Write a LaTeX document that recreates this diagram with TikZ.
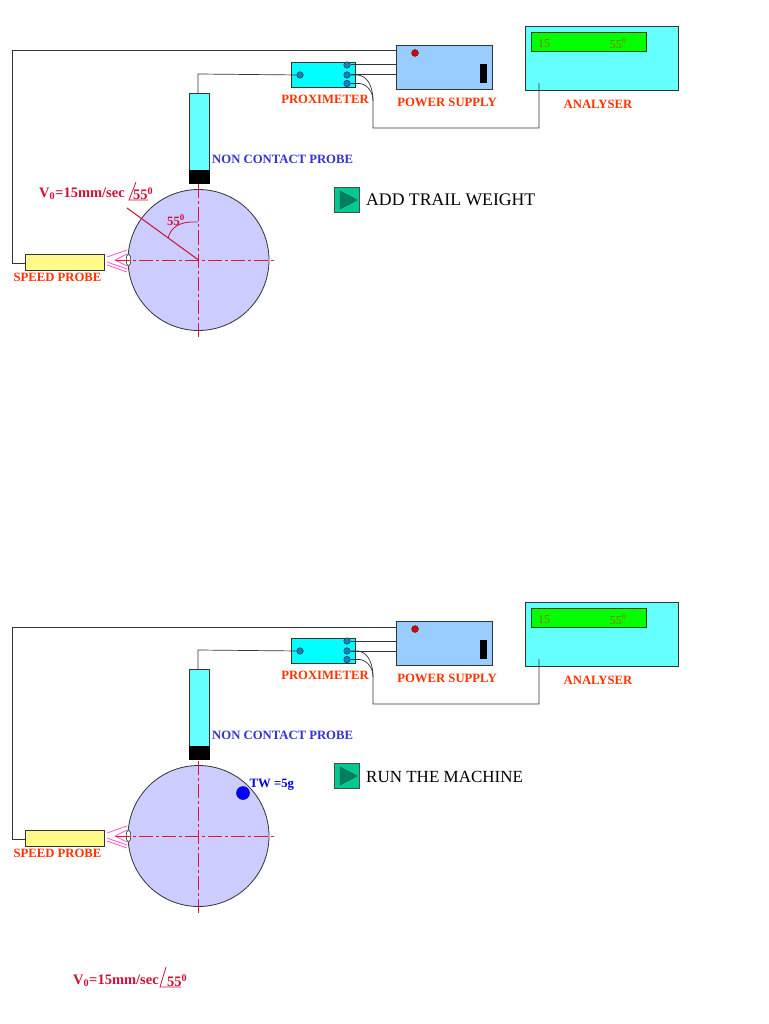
\documentclass[tikz,border=0pt]{standalone}
\usepackage{fontspec}
\setmainfont{Liberation Serif}
\usetikzlibrary{positioning,calc,shapes.geometric}
\definecolor{wirec}{HTML}{333333}
\definecolor{labelred}{HTML}{FF3300}
\definecolor{noteblue}{HTML}{3333CC}
\definecolor{notered}{HTML}{CC1133}
\definecolor{panelcyan}{HTML}{66FFFF}
\definecolor{proxcyan}{HTML}{00FFFF}
\definecolor{supplyblue}{HTML}{99CCFF}
\definecolor{wheelblue}{HTML}{CCCCFF}
\definecolor{termblue}{HTML}{0F7FD0}
\definecolor{raypink}{HTML}{FF66CC}
\definecolor{btngreen}{HTML}{00C890}
\definecolor{btndark}{HTML}{00805F}
\definecolor{centrered}{HTML}{E0103C}
\definecolor{dispval}{HTML}{A06A00}
\tikzset{
  box/.style={draw=#1,line width=0.8pt,inner sep=0pt,outer sep=0pt},
  box/.default=wirec,
  lbl/.style={text=labelred,font=\fontsize{12.7}{13}\selectfont\bfseries,inner sep=0pt},
  wire/.style={draw=wirec,line width=1pt},
  thin wire/.style={draw=wirec,line width=0.7pt},
  centre/.style={draw=centrered,line width=0.9pt,dash pattern=on 14pt off 3pt on 3pt off 3pt},
  term/.style={circle,draw=wirec,line width=0.5pt,fill=termblue,minimum size=6.5pt,inner sep=0pt},
  stepnote/.style={text=black,inner sep=0pt,anchor=west},
  valnote/.style={text=notered,font=\fontsize{14.5}{15}\selectfont\bfseries,inner sep=0pt,anchor=west},
}
% one complete rig, #1 prefix, #2 shift downwards, #3 text beside the button
\newcommand{\drawrig}[3]{
\begin{scope}[yshift=-#2pt,name prefix=#1-]
  \node[box,fill=panelcyan,minimum width=153pt,minimum height=64pt] (analyser) at (601.5,58) {};
  \node[box=green!30!black,fill=green,minimum width=115pt,minimum height=19pt] (display) at (588.5,41.5) {};
  \node[text=dispval,font=\fontsize{12}{12}\selectfont,inner sep=0pt] (dval) at (544,44) {15};
  \node[text=dispval,font=\fontsize{12}{12}\selectfont,inner sep=0pt] (dang) at (618,43.5) {55\textsuperscript{0}};
  \node[box,fill=supplyblue,minimum width=96pt,minimum height=44pt] (supply) at (444,67) {};
  \node[circle,draw=wirec,line width=0.4pt,fill=red!85!black,minimum size=7pt,inner sep=0pt] (lamp) at (415,53) {};
  \node[fill=black,minimum width=7pt,minimum height=19pt,inner sep=0pt] (slot) at (483.5,73.5) {};
  \node[box,fill=proxcyan,minimum width=64pt,minimum height=25pt] (prox) at (323.5,74.5) {};
  \node[term] (tin) at (300,75) {};
  \node[term] (ta) at (347,65) {};
  \node[term] (tb) at (347,75) {};
  \node[term] (tc) at (347,83.5) {};
  \node[box,fill=panelcyan,minimum width=20pt,minimum height=77pt] (probe) at (199,131.5) {};
  \node[fill=black,minimum width=21pt,minimum height=14pt,inner sep=0pt,below=0pt of probe] (tip) {};
  \node[box,fill=wheelblue,circle,minimum size=141pt] (wheel) at (198.5,260) {};
  \node[box,fill=yellow!45,minimum width=79pt,minimum height=16pt] (speed) at (64.5,262) {};
  \node[draw=wirec,line width=0.6pt,fill=white,ellipse,minimum width=4.5pt,minimum height=12pt,inner sep=0pt] (mark) at (128.5,260) {};

  \node[lbl] (proxl) at (325,99.5) {PROXIMETER};
  \node[lbl] (supplyl) at (447,102) {POWER SUPPLY};
  \node[lbl] (analyserl) at (598,104) {ANALYSER};
  \node[lbl] (speedl) at (57.5,277) {SPEED PROBE};
  \node[lbl,text=noteblue,anchor=west] (probel) at (212,159.5) {NON CONTACT PROBE};

  \node[draw=black!70,line width=1.2pt,fill=btngreen,minimum size=25pt,inner sep=0pt] (btn) at (347,200) {};
  \draw[btndark!70!black,line width=0.5pt,fill=btndark] ([xshift=-7pt,yshift=9pt]btn.center) -- ([xshift=10pt]btn.center) -- ([xshift=-7pt,yshift=-9pt]btn.center) -- cycle;
  \node[stepnote] (stepl) at (366,#3) {\csname rigstep#1\endcsname};

  \coordinate (cnr a) at (12,51);
  \coordinate (cnr b) at (12,263);
  \coordinate (cnr c) at (198,74);
  \coordinate (cnr d) at (373,128);
  \coordinate (cnr e) at (539,128);
  \coordinate (cnr f) at (539,83);
  \coordinate (cnr g) at (373,101);

  \draw[wire] (supply.west |- cnr a) -- (cnr a) -- (cnr b) -- (speed.west |- cnr b);
  \draw[thin wire] (tin) -- (cnr c) -- (probe.north -| cnr c);
  \draw[wire] (ta) -- (ta -| supply.west);
  \draw[wire] (tb) -- ++(50,0);
  \draw[thin wire] (tc) -- (360,83.5) .. controls (368,85) and (373,92) .. (cnr g) -- (cnr d) -- (cnr e) -- (cnr f);
  \draw[thin wire] (tb) -- (358,75) .. controls (366,76) and (373,84) .. (cnr g);

  \foreach \ya/\xb/\yb in {257/127/250,260/127/254,260/127/266,262/127/269,265/127/272}{
    \draw[raypink,line width=0.9pt] (\ifnum\ya=260 115\else 107\fi,\ya) -- (\xb,\yb);
  }
  \draw[centre] ([xshift=-12pt]wheel.west) -- ([xshift=5.5pt]wheel.east);
  \draw[centre] ([yshift=5pt]wheel.north) -- ([yshift=-9pt]wheel.south);
\end{scope}
}
\begin{document}
\begin{tikzpicture}[x=1pt,y=-1pt]
  \useasboundingbox (0,0) rectangle (768,1024);
  \expandafter\def\csname rigstepa\endcsname{\fontsize{17.7}{18}\selectfont ADD TRAIL WEIGHT}
  \expandafter\def\csname rigstepb\endcsname{\fontsize{17}{17}\selectfont RUN THE MACHINE}
  \drawrig{a}{0}{200}
  \drawrig{b}{576}{201}

  % first rig, reading at the angle
  \coordinate (vend) at (127,208);
  \coordinate (arca) at (168,238);
  \coordinate (arcb) at (198,222);
  \draw[notered,line width=1pt] (a-wheel.center) -- (vend);
  \draw[notered,line width=0.8pt] (arca) .. controls (171,228) and (178,221) .. (arcb);
  \node[text=notered,font=\fontsize{12.7}{13}\selectfont\bfseries,inner sep=0pt] (angl) at (176,220) {55\textsuperscript{0}};
  \node[valnote] (vala) at (39,194) {V\textsubscript{0}=15mm/sec};
  \node[valnote] (anga) at (133,194) {55\textsuperscript{0}};
  \coordinate (anga b) at (129,200);
  \draw[notered,line width=0.8pt] (136,182) -- (anga b) -- (148,200);

  % second rig, trail weight and reading
  \node[circle,draw=blue!60!black,line width=0.5pt,fill=blue,minimum size=13pt,inner sep=0pt] (tw) at (243,793) {};
  \node[lbl,text=blue!85!black,anchor=west] (twl) at (249.5,785) {TW =5g};
  \node[valnote] (valb) at (73,981) {V\textsubscript{0}=15mm/sec};
  \node[valnote] (angb) at (167,981) {55\textsuperscript{0}};
  \coordinate (angb b) at (160,987);
  \draw[notered,line width=0.8pt] (166,967) -- (angb b) -- (181,987);
\end{tikzpicture}
\end{document}
